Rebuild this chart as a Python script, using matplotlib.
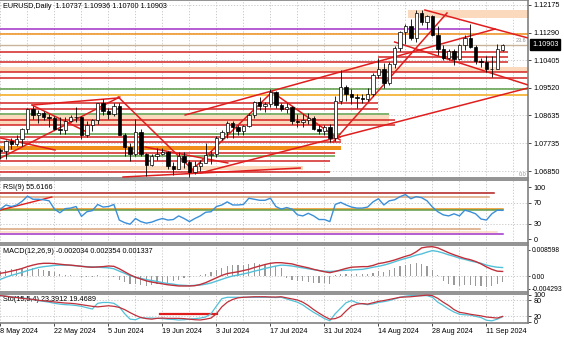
import matplotlib
matplotlib.use("Agg")
import matplotlib.pyplot as plt
import numpy as np

plt.rcParams['font.family'] = ['Liberation Sans', 'DejaVu Sans']
FS = 5.2

# ---- price data (daily EURUSD) ----
opens = [1.0752, 1.0748, 1.0782, 1.0771, 1.0788, 1.0819, 1.0883, 1.0866, 1.0870, 1.0857,
         1.0855, 1.0819, 1.0818, 1.0846, 1.0859, 1.0858, 1.0800, 1.0834, 1.0848, 1.0903,
         1.0878, 1.0868, 1.0893, 1.0801, 1.0763, 1.0741, 1.0810, 1.0739, 1.0704, 1.0734,
         1.0740, 1.0745, 1.0701, 1.0692, 1.0732, 1.0713, 1.0682, 1.0702, 1.0711, 1.0738,
         1.0741, 1.0790, 1.0811, 1.0840, 1.0826, 1.0813, 1.0830, 1.0866, 1.0908, 1.0893,
         1.0901, 1.0937, 1.0896, 1.0883, 1.0891, 1.0845, 1.0843, 1.0848, 1.0856, 1.0819,
         1.0815, 1.0825, 1.0790, 1.0910, 1.0955, 1.0932, 1.0922, 1.0920, 1.0917, 1.0932,
         1.0992, 1.1012, 1.0968, 1.1027, 1.1080, 1.1130, 1.1150, 1.1112, 1.1191, 1.1162,
         1.1183, 1.1120, 1.1077, 1.1047, 1.1071, 1.1044, 1.1089, 1.1111, 1.1084, 1.1038,
         1.1035, 1.1011, 1.1013, 1.10737]
highs = [1.0760, 1.0783, 1.0790, 1.0799, 1.0822, 1.0887, 1.0895, 1.0880, 1.0879, 1.0868,
         1.0862, 1.0858, 1.0857, 1.0865, 1.0889, 1.0860, 1.0847, 1.0852, 1.0904, 1.0916,
         1.0888, 1.0902, 1.0903, 1.0807, 1.0774, 1.0852, 1.0820, 1.0744, 1.0740, 1.0760,
         1.0760, 1.0750, 1.0713, 1.0745, 1.0745, 1.0720, 1.0717, 1.0719, 1.0776, 1.0748,
         1.0797, 1.0818, 1.0845, 1.0845, 1.0834, 1.0834, 1.0871, 1.0910, 1.0922, 1.0907,
         1.0948, 1.0943, 1.0904, 1.0902, 1.0893, 1.0869, 1.0868, 1.0872, 1.0860, 1.0834,
         1.0834, 1.0837, 1.0926, 1.1009, 1.0962, 1.0948, 1.0931, 1.0932, 1.0950, 1.1000,
         1.1046, 1.1031, 1.1036, 1.1087, 1.1135, 1.1157, 1.1174, 1.1201, 1.1202, 1.1187,
         1.1187, 1.1149, 1.1088, 1.1075, 1.1075, 1.1092, 1.1120, 1.1155, 1.1088, 1.1048,
         1.1054, 1.1055, 1.1092, 1.10936]
lows = [1.0724, 1.0724, 1.0757, 1.0764, 1.0765, 1.0806, 1.0852, 1.0840, 1.0849, 1.0826,
        1.0816, 1.0805, 1.0805, 1.0843, 1.0842, 1.0789, 1.0794, 1.0812, 1.0837, 1.0865,
        1.0853, 1.0860, 1.0801, 1.0733, 1.0716, 1.0733, 1.0733, 1.0668, 1.0700, 1.0719,
        1.0735, 1.0693, 1.0671, 1.0690, 1.0694, 1.0667, 1.0677, 1.0686, 1.0710, 1.0709,
        1.0730, 1.0784, 1.0791, 1.0792, 1.0800, 1.0799, 1.0826, 1.0856, 1.0882, 1.0873,
        1.0890, 1.0886, 1.0877, 1.0870, 1.0837, 1.0825, 1.0825, 1.0836, 1.0816, 1.0803,
        1.0799, 1.0777, 1.0780, 1.0900, 1.0911, 1.0901, 1.0886, 1.0903, 1.0909, 1.0925,
        1.0984, 1.0950, 1.0962, 1.1016, 1.1069, 1.1091, 1.1105, 1.1099, 1.1152, 1.1141,
        1.1117, 1.1057, 1.1040, 1.1040, 1.1026, 1.1041, 1.1073, 1.1081, 1.1027, 1.1018,
        1.1002, 1.0988, 1.1013, 1.10700]
closes = [1.0748, 1.0782, 1.0771, 1.0788, 1.0819, 1.0883, 1.0866, 1.0870, 1.0857, 1.0855,
          1.0819, 1.0818, 1.0846, 1.0859, 1.0858, 1.0800, 1.0834, 1.0848, 1.0903, 1.0878,
          1.0868, 1.0893, 1.0801, 1.0763, 1.0741, 1.0810, 1.0739, 1.0704, 1.0734, 1.0740,
          1.0745, 1.0701, 1.0692, 1.0732, 1.0713, 1.0682, 1.0702, 1.0711, 1.0738, 1.0741,
          1.0790, 1.0811, 1.0840, 1.0826, 1.0813, 1.0830, 1.0866, 1.0908, 1.0893, 1.0901,
          1.0937, 1.0896, 1.0883, 1.0891, 1.0845, 1.0843, 1.0848, 1.0856, 1.0819, 1.0815,
          1.0825, 1.0790, 1.0910, 1.0955, 1.0932, 1.0922, 1.0920, 1.0917, 1.0932, 1.0992,
          1.1012, 1.0968, 1.1027, 1.1080, 1.1130, 1.1150, 1.1112, 1.1191, 1.1162, 1.1183,
          1.1120, 1.1077, 1.1047, 1.1071, 1.1044, 1.1089, 1.1111, 1.1084, 1.1038, 1.1035,
          1.1011, 1.1013, 1.1075, 1.10903]

# ---- indicators ----
rsi = [58, 66, 63, 66, 73, 83, 77, 77, 76, 74, 58, 51, 59, 60, 63, 44, 53, 55, 67, 62,
       63, 67, 37, 32, 29, 40, 34, 31, 33, 37, 40, 37, 38, 45, 40, 34, 40, 45, 52, 53,
       63, 66, 72, 66, 66, 67, 79, 77, 75, 75, 79, 63, 58, 61, 58, 47, 45, 50, 45, 38,
       38, 34, 67, 71, 66, 62, 60, 60, 62, 72, 78, 66, 74, 76, 82, 86, 78, 82, 80, 74,
       62, 53, 47, 45, 49, 45, 56, 53, 49, 39, 37, 49, 56, 55.6]
macd_red = [0.0009, 0.0012, 0.0016, 0.0020, 0.0025, 0.0031, 0.0036, 0.0040, 0.0042, 0.0042,
            0.0041, 0.0039, 0.0037, 0.0036, 0.0034, 0.0032, 0.0030, 0.0029, 0.0030, 0.0031,
            0.0033, 0.0032, 0.0024, 0.0014, 0.0004, -0.0004, -0.0010, -0.0016, -0.0020, -0.0023,
            -0.0026, -0.0029, -0.0031, -0.0033, -0.0033, -0.0033, -0.0032, -0.0028, -0.0022, -0.0014,
            -0.0006, 0.0002, 0.0008, 0.0011, 0.0014, 0.0018, 0.0022, 0.0028, 0.0033, 0.0038,
            0.0042, 0.0044, 0.0044, 0.0042, 0.0040, 0.0035, 0.0031, 0.0027, 0.0022, 0.0018,
            0.0014, 0.0011, 0.0015, 0.0020, 0.0025, 0.0029, 0.0030, 0.0031, 0.0031, 0.0035,
            0.0041, 0.0044, 0.0048, 0.0053, 0.0059, 0.0065, 0.0070, 0.0080, 0.0093, 0.0096,
            0.0097, 0.0093, 0.0085, 0.0077, 0.0070, 0.0064, 0.0058, 0.0054, 0.0048, 0.0040,
            0.0030, 0.0022, 0.0016, 0.0015]
macd_cyan = [-0.0011, -0.0004, 0.0002, 0.0007, 0.0012, 0.0018, 0.0023, 0.0028, 0.0031, 0.0033,
             0.0035, 0.0036, 0.0036, 0.0035, 0.0034, 0.0032, 0.0031, 0.0030, 0.0029, 0.0028,
             0.0027, 0.0024, 0.0016, 0.0009, 0.0001, -0.0004, -0.0008, -0.0012, -0.0015, -0.0018,
             -0.0022, -0.0025, -0.0027, -0.0030, -0.0031, -0.0032, -0.0031, -0.0030, -0.0027, -0.0023,
             -0.0017, -0.0011, -0.0005, 0.0000, 0.0003, 0.0007, 0.0011, 0.0016, 0.0020, 0.0025,
             0.0029, 0.0033, 0.0036, 0.0035, 0.0033, 0.0030, 0.0027, 0.0024, 0.0021, 0.0018,
             0.0016, 0.0015, 0.0016, 0.0018, 0.0019, 0.0020, 0.0021, 0.0022, 0.0025, 0.0029,
             0.0032, 0.0036, 0.0041, 0.0047, 0.0053, 0.0058, 0.0063, 0.0069, 0.0073, 0.0079,
             0.0084, 0.0081, 0.0076, 0.0070, 0.0065, 0.0059, 0.0055, 0.0050, 0.0046, 0.0042,
             0.0036, 0.0032, 0.0029, 0.0028]
macd_hist = [0.0018, 0.0020, 0.0022, 0.0024, 0.0024, 0.0025, 0.0025, 0.0022, 0.0020, 0.0018,
             0.0012, 0.0008, 0.0004, 0.0002, 0.0000, -0.0004, -0.0004, -0.0003, 0.0002, 0.0001,
             -0.0002, -0.0002, -0.0012, -0.0020, -0.0025, -0.0028, -0.0030, -0.0032, -0.0030, -0.0028,
             -0.0026, -0.0022, -0.0018, -0.0012, -0.0006, -0.0004, 0.0000, 0.0004, 0.0008, 0.0014,
             0.0020, 0.0026, 0.0032, 0.0036, 0.0036, 0.0036, 0.0040, 0.0042, 0.0040, 0.0038,
             0.0040, 0.0034, 0.0028, -0.0006, -0.0012, -0.0016, -0.0018, -0.0020, -0.0022, -0.0024,
             -0.0024, -0.0026, 0.0004, 0.0008, 0.0008, 0.0006, 0.0005, 0.0005, 0.0006, 0.0010,
             0.0016, 0.0014, 0.0020, 0.0026, 0.0032, 0.0038, 0.0040, 0.0044, 0.0040, 0.0034,
             0.0020, 0.0004, -0.0018, -0.0026, -0.0030, -0.0032, -0.0030, -0.0030, -0.0032, -0.0034,
             -0.0036, -0.0034, -0.0026, -0.0020]
sto_cyan = [96, 94, 92, 90, 88, 85, 82, 78, 75, 72, 68, 65, 63, 62, 60, 57, 52, 47, 68, 71,
            71, 68, 55, 30, 10, 8, 16, 14, 14, 13, 12, 10, 9, 7, 8, 10, 12, 14, 18, 30,
            58, 85, 90, 90, 90, 90, 90, 90, 90, 90, 90, 89, 90, 84, 78, 72, 62, 48, 35, 24,
            12, 4, 30, 50, 70, 78, 70, 66, 63, 66, 71, 74, 78, 84, 90, 94, 96, 96, 96, 96,
            90, 72, 60, 47, 36, 28, 26, 25, 20, 16, 6, 4, 10, 19]
sto_red = [96, 94, 91, 89, 86, 84, 82, 79, 77, 75, 73, 71, 69, 68, 66, 63, 60, 57, 55, 57,
           59, 57, 53, 45, 34, 24, 16, 12, 10, 13, 14, 13, 13, 13, 12, 10, 8, 7, 10, 14,
           30, 55, 72, 82, 88, 90, 91, 92, 92, 92, 91, 91, 92, 88, 84, 80, 72, 60, 45, 32,
           20, 10, 12, 20, 40, 58, 65, 67, 65, 70, 75, 78, 82, 86, 90, 91, 92, 94, 96, 98,
           96, 86, 72, 60, 45, 35, 32, 28, 25, 22, 18, 16, 14, 20]

date_labels = ["8 May 2024", "22 May 2024", "5 Jun 2024", "19 Jun 2024", "3 Jul 2024",
               "17 Jul 2024", "31 Jul 2024", "14 Aug 2024", "28 Aug 2024", "11 Sep 2024"]
date_pos = [0, 10, 20, 30, 40, 50, 60, 70, 80, 90]
price_ticks = [1.12175, 1.11290, 1.10405, 1.09520, 1.08635, 1.07735, 1.06850]

# horizontal levels on the price panel: price, kind, bar where it ends
level_prices = [1.11421, 1.11229, 1.10668, 1.10507, 1.10347, 1.10026, 1.09818, 1.09465,
                1.09273, 1.09032, 1.08840, 1.08679, 1.08487, 1.08327, 1.08038, 1.07942,
                1.07782, 1.07429, 1.07333, 1.07172, 1.06819]
level_kinds = ['purple', 'orange', 'red', 'red', 'red', 'red', 'red', 'green',
               'gold', 'red', 'red', 'green', 'red', 'red', 'green', 'red',
               'red', 'red', 'green', 'red', 'red']
level_start = [0, 0, 0, 70, 0, 0, 0, 0, 0, 0, 0, 0, 0, 0, 0, 0, 0, 0, 0, 0, 0]
level_end = [87, 98, 94, 94, 94, 98, 98, 98, 98, 70, 70, 72, 73, 73, 63, 63, 63, 62, 62, 61, 61]
# shaded zones: low, high, start bar, end bar, kind
zone_low = [1.11742, 1.10027, 1.08327, 1.07525, 1.06883]
zone_high = [1.12015, 1.10171, 1.08647, 1.07653, 1.07012]
zone_start = [75.5, 0, 0, 0, 0]
zone_end = [98, 98, 72, 63, 56]
zone_kinds = ['peach', 'peach', 'peach', 'orange', 'peach']

# trend lines: start bar, start price, end bar, end price
trend_lines = [
    (21.8, 1.09225, 36.0, 1.06819),
    (35.1, 1.06819, 50.3, 1.09385),
    (50.3, 1.09385, 62.9, 1.07846),
    (61.6, 1.07782, 82.7, 1.11918),
    (37.0, 1.06787, 97.7, 1.09513),
    (34.2, 1.08647, 91.6, 1.11405),
    (78.6, 1.12015, 97.7, 1.11117),
    (73.0, 1.10988, 97.7, 1.09610),
    (0.0, 1.07268, 22.1, 1.09225),
    (0.0, 1.07910, 10.1, 1.07525),
    (5.8, 1.08968, 16.0, 1.08102),
    (6.0, 1.08968, 21.8, 1.09193),
    (22.7, 1.06659, 55.5, 1.06947),
    (26.8, 1.07621, 42.1, 1.07108),
]

rsi_levels = [89, 81, 57.7, 56, 19, 14, 10]
rsi_level_kinds = ['darkred', 'tan', 'orange', 'green', 'tan', 'peach', 'purple']
rsi_level_end = [91.4, 90.5, 93.1, 93.1, 88.8, 92.0, 93.1]
rsi_trend = (0.0, 56.3, 9.5, 81.3)
sto_segment = (29.5, 28.5, 40.1, 28.5)

colors = {'red': '#d42424', 'darkred': '#b01c1c', 'orange': '#f0901a', 'gold': '#f2a818',
          'green': '#5e9e48', 'purple': '#a030c8', 'tan': '#d8a47a', 'peach': '#fbd9bd'}

W, H = 564, 338
XMIN, XMAX = -0.09, 97.7
fig = plt.figure(figsize=(W / 100, H / 100), dpi=100)
fig.patch.set_facecolor('white')


def panel(y0, y1):
    a = fig.add_axes([0, 1 - y1 / H, 528 / W, (y1 - y0) / H])
    a.set_xlim(XMIN, XMAX)
    a.yaxis.tick_right()
    a.tick_params(axis='y', labelsize=FS, length=2, pad=2, width=0.5)
    a.tick_params(axis='x', bottom=False, labelbottom=False)
    for s in a.spines.values():
        s.set_color('#808080')
        s.set_linewidth(1.2)
    a.spines['left'].set_visible(False)
    for k in range(0, 100, 5):
        a.axvline(k, color='#c4c4c4', lw=0.6, ls=(0, (1.5, 2)), zorder=0)
    return a


grid_kw = dict(color='#c4c4c4', lw=0.6, ls=(0, (1.5, 2)), zorder=0)
x = np.arange(len(closes))

# ---- price panel ----
ax = panel(0, 178)
ax.set_ylim(1.06627, 1.12335)
ax.set_yticks(price_ticks)
ax.set_yticklabels([f"{p:.5f}" for p in price_ticks])
for p in price_ticks:
    ax.axhline(p, **grid_kw)

for lo, hi, s, e, k in zip(zone_low, zone_high, zone_start, zone_end, zone_kinds):
    ax.fill_between([s, e], lo, hi, color=colors[k], lw=0, zorder=1)
for p, k, s, e in zip(level_prices, level_kinds, level_start, level_end):
    ax.plot([s, e], [p, p], color=colors[k], lw=1.1, zorder=2, solid_capstyle='butt')
ax.axhline(closes[-1], color='#c9b49a', lw=1.0, zorder=2)
for s, p0, e, p1 in trend_lines:
    ax.plot([s, e], [p0, p1], color='#e01e1e', lw=1.1, zorder=3)

o = np.array(opens)
c = np.array(closes)
up = c >= o
ax.vlines(x, lows, highs, color='black', lw=0.6, zorder=4)
body_lo = np.minimum(o, c)
body_h = np.maximum(np.abs(c - o), 0.00006)
ax.bar(x[up], body_h[up], bottom=body_lo[up], width=0.62, facecolor='white',
       edgecolor='black', lw=0.5, zorder=5)
ax.bar(x[~up], body_h[~up], bottom=body_lo[~up], width=0.62, facecolor='black',
       edgecolor='black', lw=0.5, zorder=5)

ax.text(0.005, 0.985, "EURUSD,Daily  1.10737 1.10936 1.10700 1.10903", transform=ax.transAxes,
        fontsize=FS, va='top', ha='left')
ax.text(95.5, 1.1097, "23.6", fontsize=4, color='#909090', ha='left', va='bottom')
ax.text(XMAX - 0.3, 1.0665, "0.0", fontsize=4, color='#909090', ha='right', va='bottom')
ax.text(1.008, closes[-1], f"{closes[-1]:.5f}", transform=ax.get_yaxis_transform(),
        fontsize=FS, color='white', ha='left', va='center',
        bbox=dict(boxstyle='square,pad=0.25', fc='black', ec='black'))

# ---- RSI panel ----
ar = panel(180, 243)
ar.set_ylim(-7.1, 114)
ar.set_yticks([100, 70, 30, 0])
for v in (70, 30):
    ar.axhline(v, **grid_kw)
for v, k, e in zip(rsi_levels, rsi_level_kinds, rsi_level_end):
    ar.plot([0, e], [v, v], color=colors[k], lw=1.1, zorder=2)
ar.plot(rsi_trend[0::2], rsi_trend[1::2], color='#e01e1e', lw=1.0, zorder=3)
ar.plot(x, rsi, color='#3a8fd8', lw=1.0, zorder=4)
ar.text(0.005, 0.93, "RSI(9) 55.6166", transform=ar.transAxes, fontsize=FS, va='top')

# ---- MACD panel ----
am = panel(245, 292)
am.set_ylim(-0.00529, 0.01025)
am.set_yticks([0.008598, 0.0, -0.004293])
am.set_yticklabels(["0.008598", "0.00", "-0.004293"])
am.tick_params(axis='y', labelsize=4.9, length=1.5, pad=1)
am.axhline(0, **grid_kw)
am.bar(x, macd_hist, width=0.22, color='#9a9a9a', zorder=2)
am.plot(x, macd_cyan, color='#52c0d8', lw=1.0, zorder=3)
am.plot(x, macd_red, color='#c0303a', lw=1.0, zorder=4)
am.text(0.005, 0.93, "MACD(12,26,9) -0.002034 0.002354 0.001337", transform=am.transAxes,
        fontsize=FS, va='top')

# ---- Stochastic panel ----
ast = panel(294, 323)
ast.set_ylim(-4, 102)
ast.set_yticks([100, 80, 20, 0])
for v in (80, 20):
    ast.axhline(v, **grid_kw)
ast.plot(sto_segment[0::2], sto_segment[1::2], color='#e01e1e', lw=1.6, zorder=2)
ast.plot(x, sto_cyan, color='#52c0d8', lw=0.9, zorder=3)
ast.plot(x, sto_red, color='#c0303a', lw=0.9, zorder=4)
ast.text(0.005, 0.93, "Sto(15,5,4) 23.3912 19.4689", transform=ast.transAxes, fontsize=FS, va='top')
ast.tick_params(axis='x', bottom=True, labelbottom=True, labelsize=FS, length=2, pad=1.5, width=0.5)
ast.set_xticks(date_pos)
ast.set_xticklabels(date_labels, ha='left')

fig.savefig("out.png", dpi=100)
